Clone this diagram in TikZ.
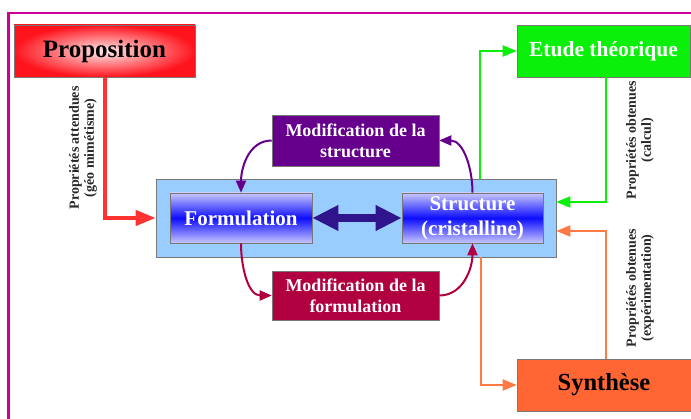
\documentclass[tikz,border=0pt]{standalone}
\usepackage{fontspec}
\setmainfont{Liberation Serif}
\usetikzlibrary{arrows.meta}

\definecolor{framemag}{RGB}{204,0,153}
\definecolor{propred}{RGB}{255,20,30}
\definecolor{arrred}{RGB}{255,50,50}
\definecolor{etgreen}{RGB}{10,240,10}
\definecolor{synorange}{RGB}{255,102,51}
\definecolor{arrorange}{RGB}{255,120,70}
\definecolor{contblue}{RGB}{153,204,255}
\definecolor{modpurple}{RGB}{102,0,140}
\definecolor{modcrimson}{RGB}{176,0,64}
\definecolor{darkindigo}{RGB}{48,20,140}
\definecolor{boxgray}{RGB}{120,120,120}
\definecolor{lbltext}{RGB}{40,40,40}

\begin{document}
\begin{tikzpicture}[x=1pt, y=1pt,
    box/.style={rectangle, draw=boxgray, line width=0.6pt, inner sep=0pt, align=center, font=\bfseries},
    bluebox/.style={box, minimum width=142, minimum height=50, top color=blue!22!white, bottom color=blue!22!white, middle color=blue!95!white, text=white, font=\bfseries\fontsize{21}{25}\selectfont},
    modbox/.style={box, minimum width=167, minimum height=50, text=white, font=\bfseries\fontsize{18}{21}\selectfont},
    lbl/.style={rotate=90, align=center, text=lbltext, font=\bfseries\fontsize{14}{15}\selectfont},
    bigarrow/.style={-{Triangle[length=20pt, width=15pt]}, line width=4pt},
    thinarrow/.style={-{Triangle[length=14pt, width=11pt]}, line width=2pt},
    curvearrow/.style={-{Triangle[length=12pt, width=10pt]}, line width=2pt}]

    \clip (0,0) rectangle (691,-419);
    \draw[framemag, line width=2.6pt] (8.3,-13) rectangle (720,-450); % outer frame

    % Boxes
    \node[box, minimum width=181, minimum height=52, inner color=red!8!white, outer color=propred, font=\bfseries\fontsize{25}{30}\selectfont] (prop) at (104.5,-51) {Proposition};
    \node[box, minimum width=173, minimum height=52, fill=etgreen, text=white, font=\bfseries\fontsize{21.5}{26}\selectfont] (etude) at (603.5,-51) {Etude théorique};
    \node[box, minimum width=174, minimum height=52, fill=synorange, font=\bfseries\fontsize{24.5}{29}\selectfont] (synth) at (604,-385) {Synthèse};
    \node[box, minimum width=400, minimum height=78, fill=contblue] (cont) at (356,-218) {}; % container
    \node[bluebox] (form) at (241,-218) {Formulation};
    \node[bluebox, minimum width=141] (struct) at (472.5,-218) {Structure\\(cristalline)};
    \node[modbox, minimum height=51, fill=modpurple] (modst) at (355.5,-140.5) {Modification de la\\structure};
    \node[modbox, minimum height=49, fill=modcrimson] (modform) at (355.5,-295.5) {Modification de la\\formulation};

    % Labels
    \node[lbl] (lblatt) at (83,-148) {Propriétés attendues\\(géo mimétisme)};
    \node[lbl] (lblcalc) at (640,-140) {Propriétés obtenues\\(calcul)};
    \node[lbl] (lblexp) at (640,-288) {Propriétés obtenues\\(expérimentation)};

    % Connectors
    \draw[bigarrow, arrred] (prop.south) |- (cont.west);
    \draw[thinarrow, etgreen] ([xshift=-76pt]cont.north east) |- (etude.west);
    \draw[thinarrow, etgreen] ([xshift=2.5pt]etude.south) |- ([yshift=16pt]cont.east);
    \draw[thinarrow, arrorange] ([xshift=-75pt]cont.south east) |- (synth.west);
    \draw[thinarrow, arrorange] ([xshift=2pt]synth.north) |- ([yshift=-13pt]cont.east);
    \draw[{Triangle[length=26pt, width=24pt]}-{Triangle[length=26pt, width=24pt]}, line width=8pt, darkindigo] (form.east) -- (struct.west);
    \draw[curvearrow, modpurple] (modst.west) to[out=180, in=90] (form.north);
    \draw[curvearrow, modpurple] (struct.north) to[out=90, in=0] (modst.east);
    \draw[curvearrow, modcrimson] (form.south) to[out=-90, in=180] (modform.west);
    \draw[curvearrow, modcrimson] (modform.east) to[out=0, in=-90] (struct.south);
\end{tikzpicture}
\end{document}
